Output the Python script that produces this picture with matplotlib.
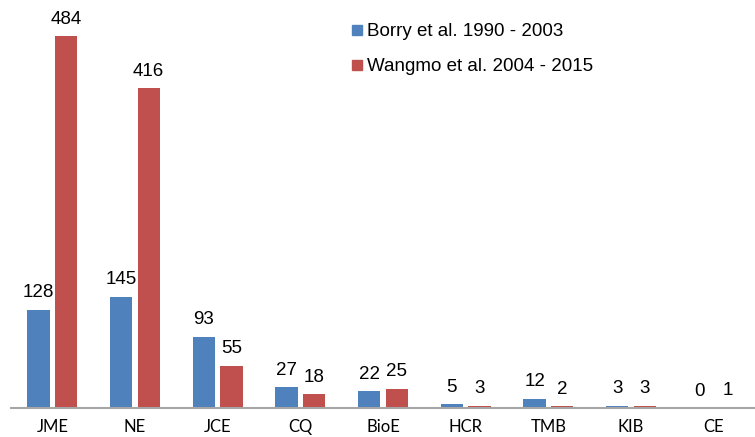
import matplotlib.pyplot as plt
import numpy as np
from matplotlib.lines import Line2D

journals = ['JME', 'NE', 'JCE', 'CQ', 'BioE', 'HCR', 'TMB', 'KIB', 'CE']
borry = [128, 145, 93, 27, 22, 5, 12, 3, 0]
wangmo = [484, 416, 55, 18, 25, 3, 2, 3, 1]
names = ['Borry et al. 1990 - 2003', 'Wangmo et al. 2004 - 2015']

blue = '#4F81BD'
red = '#C0504D'

plt.rcParams['font.family'] = ['Liberation Sans', 'DejaVu Sans']

fig = plt.figure(figsize=(7.55, 4.37), dpi=100)
ax = fig.add_axes([11 / 755, 1 - 408 / 437, 744 / 755, (408 - 23.7) / 437])

x = np.arange(len(journals))
w = 0.27
off = 0.166
b1 = ax.bar(x - off, borry, w, color=blue)
b2 = ax.bar(x + off, wangmo, w, color=red)
ax.bar_label(b1, padding=6, fontsize=13.5)
ax.bar_label(b2, padding=6, fontsize=13.5)

ax.set_xlim(-0.5, len(journals) - 0.5)
ax.set_ylim(0, 500)
ax.set_xticks(x)
ax.set_xticklabels(journals, fontsize=12, family=['Lato', 'DejaVu Sans'])
ax.tick_params(axis='x', length=0, pad=8)
ax.set_yticks([])
for s in ['top', 'right', 'left']:
    ax.spines[s].set_visible(False)
ax.spines['bottom'].set_color('#A6A6A6')
ax.spines['bottom'].set_linewidth(1.5)

handles = [Line2D([], [], marker='s', linestyle='', color=c, markersize=7) for c in (blue, red)]
fig.legend(handles, names, loc='upper left', bbox_to_anchor=(348 / 755, 1 - 23 / 437),
           frameon=False, fontsize=13.5, handletextpad=0.0, handlelength=1.0,
           labelspacing=0.95, borderaxespad=0, borderpad=0)

fig.savefig('out.png', dpi=100)
